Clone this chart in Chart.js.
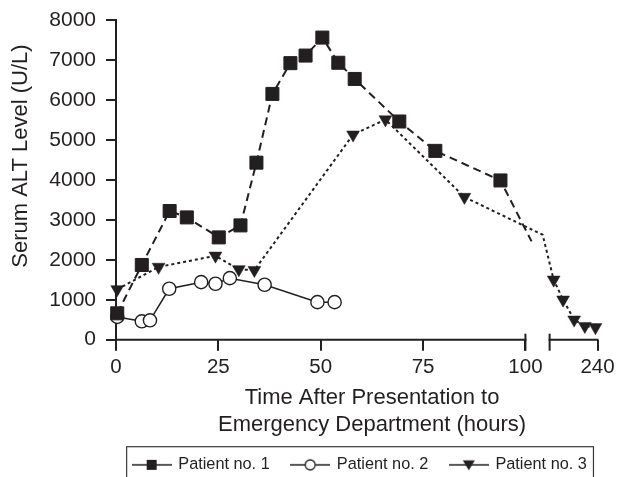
<!DOCTYPE html>
<html>
<head>
<meta charset="utf-8">
<script src="https://cdn.jsdelivr.net/npm/chart.js@4.4.1/dist/chart.umd.min.js"></script>
<style>
  html, body { margin: 0; padding: 0; background: #fff; }
</style>
</head>
<body>
<canvas id="alt-chart" width="619" height="477"></canvas>
<script>
// hours after presentation, serum ALT (U/L)
const p1Hours = [0.3, 6.3, 13.1, 17.3, 25.1, 30.4, 34.3, 38.2, 42.6, 46.3, 50.4, 54.3, 58.3, 69.2, 78.0, 93.9, 107.6];
const p1Alt = [660, 1870, 3220, 3060, 2560, 2860, 4430, 6150, 6920, 7110, 7560, 6930, 6525, 5460, 4725, 3985, 2460];

const p2Hours = [0.3, 6.3, 8.3, 13.0, 20.8, 24.3, 27.8, 36.3, 49.2, 53.4];
const p2Alt = [570, 460, 485, 1275, 1440, 1400, 1540, 1375, 940, 940];

const p3Hours = [0.3, 10.4, 24.3, 30.0, 33.8, 57.9, 65.8, 85.1, 121.4, 139.4, 161, 186.4, 210.9, 235.3];
const p3Alt = [1260, 1820, 2100, 1760, 1740, 5130, 5510, 3570, 2625, 1500, 1000, 500, 340, 310];

const seriesNames = ['Patient no. 1', 'Patient no. 2', 'Patient no. 3'];
const xTickHours = [0, 25, 50, 75, 100, 240];
const yTickValues = [0, 1000, 2000, 3000, 4000, 5000, 6000, 7000, 8000];

const ink = '#231f20';
const font = "'Liberation Sans', Arial, Helvetica, sans-serif";

// broken time axis: 0-100 h to scale, a short gap, then a squeezed tail up to 240 h
const tailStart = 130;
function axisPos(h) {
    if (h <= 100) return h;
    if (h <= tailStart) return 100 + (h - 100) * 0.197;
    return 105.9 + (h - tailStart) * 0.1064;
}
function inGap(h) {
    return h > 100 && h < tailStart;
}

function points(hours, values) {
    return hours.map((h, i) => ({x: axisPos(h), y: values[i], h: h}));
}

// little "line + marker" pictures for the legend
function legendIcon(marker) {
    const c = document.createElement('canvas');
    c.width = 40;
    c.height = 16;
    const g = c.getContext('2d');
    g.strokeStyle = ink;
    g.fillStyle = ink;
    g.lineWidth = 1.5;
    g.beginPath();
    g.moveTo(0, 8);
    g.lineTo(40, 8);
    g.stroke();
    if (marker === 'rect') {
        g.fillRect(15, 3, 10, 10);
    } else if (marker === 'circle') {
        g.fillStyle = '#fff';
        g.lineWidth = 1.3;
        g.beginPath();
        g.arc(20, 8, 5, 0, Math.PI * 2);
        g.fill();
        g.stroke();
    } else {
        g.beginPath();
        g.moveTo(14, 3.5);
        g.lineTo(26, 3.5);
        g.lineTo(20, 13.5);
        g.closePath();
        g.fill();
    }
    return c;
}
const legendIcons = [legendIcon('rect'), legendIcon('circle'), legendIcon('triangle')];

const brokenAxis = {
    id: 'brokenAxis',
    beforeDatasetsDraw(chart) {
        const {ctx, chartArea, scales} = chart;
        const x = scales.x;
        const y = chartArea.bottom;
        ctx.save();
        ctx.strokeStyle = ink;
        ctx.lineWidth = 2;
        [[0, 100], [tailStart, 240]].forEach(([a, b]) => {
            ctx.beginPath();
            ctx.moveTo(x.getPixelForValue(axisPos(a)) - 1, y);
            ctx.lineTo(x.getPixelForValue(axisPos(b)) + 1, y);
            ctx.stroke();
        });
        [100, tailStart].forEach(h => {
            const px = x.getPixelForValue(axisPos(h));
            ctx.beginPath();
            ctx.moveTo(px, y - 6);
            ctx.lineTo(px, y + 11);
            ctx.stroke();
        });
        ctx.restore();
    },
    afterDraw(chart) {
        // frame round the legend, open at the bottom edge of the picture
        const boxes = chart.legend.legendHitBoxes;
        if (!boxes || !boxes.length) return;
        const first = boxes[0], last = boxes[boxes.length - 1];
        const ctx = chart.ctx;
        ctx.save();
        ctx.strokeStyle = '#3a3a3a';
        ctx.lineWidth = 1.2;
        const left = first.left - 6.5;
        const right = last.left + last.width + 6.6;
        const top = first.top - 10;
        ctx.strokeRect(left, top, right - left, 60);
        ctx.restore();
    }
};

const dataset1 = {
    label: seriesNames[0],
    data: points(p1Hours, p1Alt),
    borderColor: ink,
    backgroundColor: ink,
    borderWidth: 2,
    borderDash: [8, 5],
    pointStyle: 'rect',
    pointRadius: ctx => inGap(ctx.raw.h) ? 0 : 9.2,
    pointBorderWidth: 1,
    clip: false,
};

const dataset2 = {
    label: seriesNames[1],
    data: points(p2Hours, p2Alt),
    borderColor: ink,
    backgroundColor: '#fff',
    borderWidth: 1.5,
    pointStyle: 'circle',
    pointRadius: 6.6,
    pointBorderWidth: 1.4,
    clip: false,
};

const dataset3 = {
    label: seriesNames[2],
    data: points(p3Hours, p3Alt),
    borderColor: ink,
    backgroundColor: ink,
    borderWidth: 2,
    borderDash: [3, 3],
    pointStyle: 'triangle',
    rotation: 180,
    pointRadius: ctx => inGap(ctx.raw.h) ? 0 : 7.4,
    pointBorderWidth: 0.5,
    clip: false,
};

const config = {
    type: 'line',
    data: {datasets: [dataset1, dataset2, dataset3]},
    options: {
        responsive: false,
        animation: false,
        layout: {padding: {left: 0, top: 0, right: -101, bottom: -6}},
        elements: {line: {tension: 0}},
        plugins: {
            tooltip: {enabled: false},
            legend: {
                position: 'bottom',
                align: 'center',
                labels: {
                    usePointStyle: true,
                    pointStyleWidth: 37,
                    padding: 22,
                    color: ink,
                    font: {family: font, size: 16.3},
                    generateLabels(chart) {
                        const items = Chart.defaults.plugins.legend.labels.generateLabels(chart);
                        items.forEach((item, i) => {
                            item.pointStyle = legendIcons[i];
                            item.rotation = 0;
                        });
                        return items;
                    }
                }
            }
        },
        scales: {
            x: {
                type: 'linear',
                min: 0,
                max: axisPos(240),
                border: {display: false},
                grid: {drawOnChartArea: false, drawTicks: true, tickLength: 11, tickColor: ink, lineWidth: 2},
                afterBuildTicks: scale => {
                    scale.ticks = xTickHours.map(h => ({value: axisPos(h)}));
                },
                ticks: {
                    color: ink,
                    font: {family: font, size: 20.5},
                    padding: 4,
                    maxRotation: 0,
                    autoSkip: false,
                    callback: (v, i) => String(xTickHours[i]),
                },
                title: {
                    display: true,
                    // the title sits a little right of the axis middle
                    text: ['     Time After Presentation to', '     Emergency Department (hours)'],
                    color: ink,
                    font: {family: font, size: 22, lineHeight: 1.24},
                    padding: {top: 0, bottom: -4},
                },
                afterFit: scale => {
                    scale.height = 95;
                    // layout right padding is -101 (for the legend), so this puts 240 h at x = 597.5
                    scale.paddingRight = 21.5;
                },
            },
            y: {
                min: 0,
                max: 8000,
                border: {display: true, color: ink, width: 2},
                grid: {drawOnChartArea: false, drawTicks: true, tickLength: 10, tickColor: ink, lineWidth: 2},
                afterBuildTicks: scale => {
                    scale.ticks = yTickValues.map(v => ({value: v}));
                },
                ticks: {
                    color: ink,
                    font: {family: font, size: 21},
                    padding: 10,
                    callback: v => String(v),
                },
                title: {
                    display: true,
                    align: 'end',
                    text: 'Serum ALT Level (U/L)    ',
                    color: ink,
                    font: {family: font, size: 22},
                    padding: {top: 8, bottom: 0},
                },
                afterFit: scale => {
                    scale.width = 116;
                    scale.paddingTop = 20;
                    scale.paddingBottom = 0;
                },
            },
        },
    },
    plugins: [brokenAxis],
};

new Chart(document.getElementById('alt-chart'), config);
</script>
</body>
</html>
